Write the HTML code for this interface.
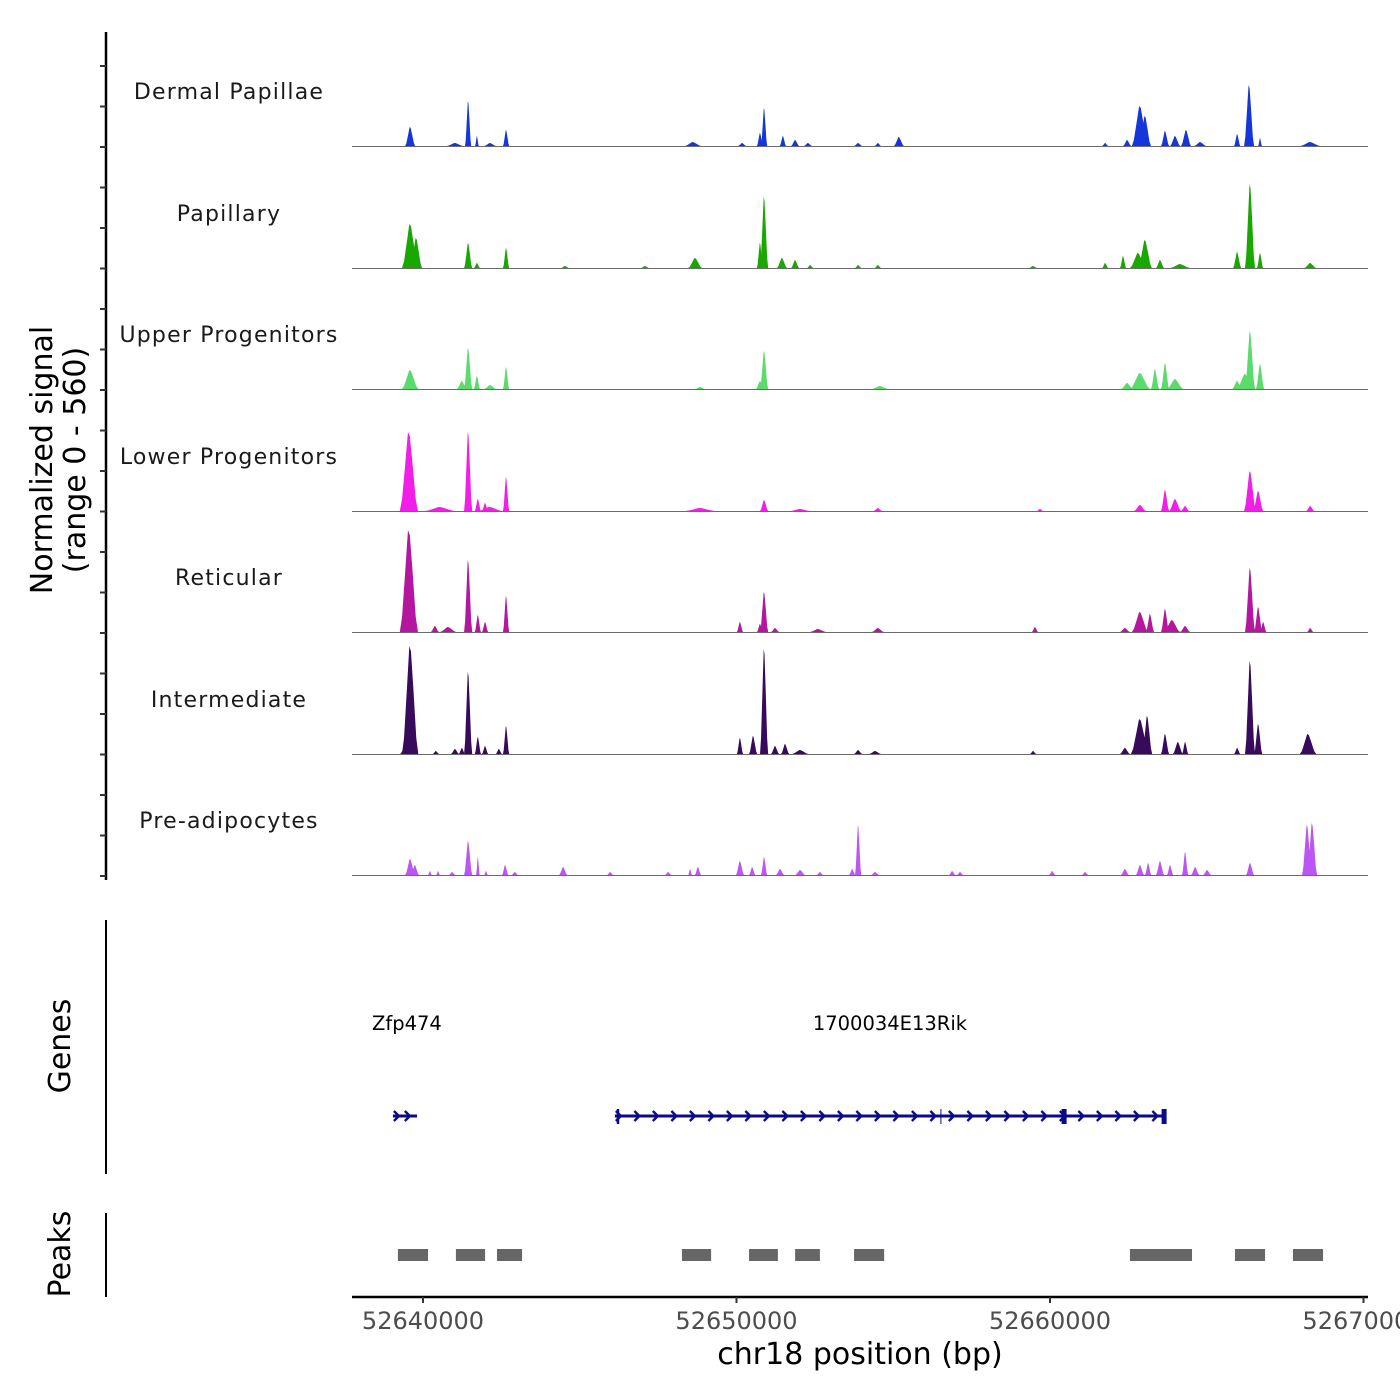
<!DOCTYPE html>
<html><head><meta charset="utf-8"><style>
html,body{margin:0;padding:0;background:#fff}
svg{display:block;font-family:"DejaVu Sans","Liberation Sans",sans-serif}
</style></head><body>
<svg id="chart" width="1400" height="1400" viewBox="0 0 1400 1400" xmlns="http://www.w3.org/2000/svg">
<g id="tracks"></g>
<g id="leftaxis"></g>
<text transform="translate(52,460) rotate(-90)" text-anchor="middle" font-size="30" fill="#000">Normalized signal</text>
<text transform="translate(85,460) rotate(-90)" text-anchor="middle" font-size="30" fill="#000">(range 0 - 560)</text>
<line x1="106" y1="920" x2="106" y2="1174" stroke="#000" stroke-width="2"/>
<text transform="translate(70,1046) rotate(-90)" text-anchor="middle" font-size="30" fill="#000">Genes</text>
<g id="genes"></g>
<line x1="106" y1="1213" x2="106" y2="1297" stroke="#000" stroke-width="2"/>
<text transform="translate(70,1254) rotate(-90)" text-anchor="middle" font-size="30" fill="#000">Peaks</text>
<g id="peaks"></g>
<g id="xaxis"></g>
<text x="860" y="1364" text-anchor="middle" font-size="30" fill="#000">chr18 position (bp)</text>
</svg>
<script>
// Genomic data (positions in kb)
const trackNames = ["Dermal Papillae","Papillary","Upper Progenitors","Lower Progenitors","Reticular","Intermediate","Pre-adipocytes"];
const trackColors = ["#1537d9","#18a800","#5bdb69","#f01ee6","#b5169f","#380a5c","#bb56f5"];
const dpPos = [52639.59,52641.44,52641.72,52642.65,52641.02,52642.14,52648.61,52650.18,52650.75,52650.88,52651.48,52651.87,52652.28,52653.88,52654.51,52655.18,52661.76,52662.46,52662.87,52663.03,52663.67,52664.34,52663.99,52664.79,52665.97,52666.35,52666.70,52668.30];
const dpSig = [95,225,50,80,15,15,20,15,65,190,50,30,15,15,15,45,15,30,200,150,75,80,50,20,60,305,40,20];
const dpWid = [0.16,0.10,0.06,0.10,0.26,0.19,0.26,0.13,0.10,0.10,0.10,0.13,0.13,0.13,0.10,0.16,0.10,0.13,0.26,0.19,0.13,0.16,0.16,0.19,0.10,0.16,0.06,0.32];
const paPos = [52639.59,52639.78,52641.44,52642.65,52641.72,52648.68,52650.75,52650.88,52651.45,52651.87,52652.35,52653.88,52654.51,52647.08,52644.53,52659.46,52661.76,52662.33,52663.03,52662.81,52663.51,52664.15,52665.97,52666.38,52666.70,52668.30];
const paSig = [220,150,125,100,25,50,125,355,50,40,15,15,15,10,10,10,25,60,140,75,40,20,80,420,75,25];
const paWid = [0.26,0.19,0.13,0.10,0.10,0.22,0.10,0.13,0.16,0.13,0.10,0.10,0.10,0.13,0.13,0.13,0.10,0.10,0.22,0.26,0.13,0.32,0.13,0.16,0.10,0.19];
const upPos = [52639.59,52641.44,52641.72,52641.24,52642.65,52642.14,52650.75,52650.88,52662.46,52662.87,52663.35,52663.67,52663.99,52665.97,52666.38,52666.70,52666.22,52654.58,52648.84];
const upSig = [95,205,65,40,110,20,40,190,30,80,100,130,50,40,290,125,75,15,10];
const upWid = [0.26,0.13,0.10,0.16,0.10,0.19,0.13,0.13,0.19,0.32,0.13,0.13,0.26,0.16,0.16,0.13,0.26,0.26,0.16];
const loPos = [52639.55,52641.44,52641.75,52641.98,52642.65,52640.54,52642.14,52648.84,52650.88,52652.03,52654.51,52659.68,52662.87,52663.67,52663.99,52664.31,52666.38,52666.64,52668.30];
const loSig = [395,395,60,40,170,20,20,15,55,10,15,10,30,105,60,25,200,100,25];
const loWid = [0.29,0.13,0.10,0.10,0.10,0.48,0.38,0.48,0.13,0.32,0.13,0.10,0.19,0.13,0.19,0.13,0.19,0.16,0.13];
const rePos = [52639.55,52640.38,52640.80,52641.44,52641.75,52641.98,52642.65,52650.11,52650.75,52650.88,52651.23,52652.60,52654.51,52659.52,52662.39,52662.87,52663.19,52663.67,52663.89,52664.31,52666.38,52666.64,52666.80,52668.30];
const reSig = [510,30,25,360,85,50,180,50,40,200,20,15,20,25,20,100,90,115,60,30,320,125,50,20];
const reWid = [0.29,0.13,0.26,0.13,0.10,0.10,0.10,0.10,0.10,0.13,0.13,0.26,0.19,0.10,0.16,0.26,0.13,0.13,0.26,0.16,0.16,0.13,0.10,0.10];
const inPos = [52639.43,52639.59,52640.41,52641.02,52641.24,52641.44,52641.75,52641.98,52642.42,52642.65,52650.11,52650.53,52650.88,52651.23,52651.55,52652.03,52653.88,52654.42,52659.46,52662.39,52662.87,52663.10,52663.67,52664.08,52664.31,52665.97,52666.38,52666.64,52668.23];
const inSig = [40,540,15,25,30,410,85,40,25,140,80,90,525,40,50,20,20,15,15,30,175,190,100,60,60,30,465,150,100];
const inWid = [0.16,0.26,0.10,0.13,0.10,0.13,0.10,0.10,0.10,0.10,0.10,0.13,0.13,0.13,0.13,0.26,0.13,0.19,0.10,0.16,0.29,0.16,0.13,0.16,0.10,0.10,0.16,0.13,0.26];
const prPos = [52639.59,52639.74,52640.22,52640.48,52640.93,52641.44,52641.75,52642.01,52642.62,52642.93,52644.47,52645.97,52647.82,52648.52,52648.77,52650.11,52650.50,52650.88,52651.39,52652.03,52652.66,52653.69,52653.88,52654.42,52656.88,52657.13,52660.07,52661.12,52662.39,52662.87,52663.13,52663.51,52663.83,52664.31,52664.63,52665.01,52666.38,52668.20,52668.36];
const prSig = [80,50,20,20,15,170,90,20,50,15,40,15,15,30,40,70,40,90,30,25,15,30,250,15,20,15,20,15,30,50,60,70,50,115,40,25,60,250,260];
const prWid = [0.16,0.13,0.06,0.06,0.10,0.13,0.06,0.06,0.10,0.10,0.13,0.10,0.10,0.06,0.10,0.13,0.10,0.10,0.13,0.16,0.10,0.10,0.10,0.13,0.10,0.10,0.10,0.10,0.13,0.13,0.10,0.13,0.10,0.10,0.13,0.13,0.13,0.16,0.16];
const trackPos = [dpPos,paPos,upPos,loPos,rePos,inPos,prPos];
const trackSig = [dpSig,paSig,upSig,loSig,reSig,inSig,prSig];
const trackWid = [dpWid,paWid,upWid,loWid,reWid,inWid,prWid];
const peakStart = [52639.20,52641.05,52642.36,52648.26,52650.40,52651.87,52653.75,52662.55,52665.90,52667.75];
const peakEnd = [52640.16,52641.98,52643.16,52649.19,52651.32,52652.66,52654.71,52664.53,52666.86,52668.71];
const geneNames = ["Zfp474","1700034E13Rik"];
const geneStart = [52639.04,52646.12];
const geneEnd = [52639.81,52663.67];
const exonPos = [52646.22,52656.52,52660.45,52663.64];
const xTicks = [52640,52650,52660,52670];
const xTickLabels = ["52640000","52650000","52660000","52670000"];

const NS="http://www.w3.org/2000/svg";
function mk(tag,attrs,parent){const e=document.createElementNS(NS,tag);for(const k in attrs)e.setAttribute(k,attrs[k]);parent.appendChild(e);return e;}
const X0=352,X1=1368,KBPX=313.5/10;
function xs(kb){return 423+(kb-52640)*KBPX;}
function ys(v,base){return base-v/5;}
const baseY=[146,268,389,511,632,754,875];

const tracks=document.getElementById('tracks');
for(let t=0;t<7;t++){
  const g=mk('g',{},tracks);
  
  
  const lab=mk('text',{x:229,y:baseY[t]-47,'text-anchor':'middle','font-size':'22','letter-spacing':'1.2',fill:'#1a1a1a'},g);
  lab.textContent=trackNames[t];
  
  
  const P=trackPos[t],S=trackSig[t],W=trackWid[t];
  for(let i=0;i<P.length;i++){
    const b=baseY[t];
    const p=mk('polygon',{points:`${xs(P[i]-W[i])},${b} ${xs(P[i]-W[i]*0.75)},${ys(S[i]*0.15,b)} ${xs(P[i]-W[i]*0.4)},${ys(S[i]*0.6,b)} ${xs(P[i]-W[i]*0.1)},${ys(S[i],b)} ${xs(P[i]+W[i]*0.1)},${ys(S[i]*0.95,b)} ${xs(P[i]+W[i]*0.4)},${ys(S[i]*0.6,b)} ${xs(P[i]+W[i]*0.75)},${ys(S[i]*0.15,b)} ${xs(P[i]+W[i])},${b}`,fill:trackColors[t]},g);
    
    
  }
  const bl=mk('line',{x1:X0,x2:X1,y1:baseY[t]+0.5,y2:baseY[t]+0.5,stroke:'#6b6b6b','stroke-width':1},g);
  
  
}
const la=document.getElementById('leftaxis');
mk('line',{x1:106,x2:106,y1:32,y2:880,stroke:'#000','stroke-width':2.5},la);
for(let k=0;k<21;k++){const y=876-k*40.5;mk('line',{x1:100,x2:106,y1:y,y2:y,stroke:'#333','stroke-width':2},la);}

const genes=document.getElementById('genes');
const gc="#0b0b8a";
for(let i=0;i<geneNames.length;i++){
  const a=xs(geneStart[i]),b=xs(geneEnd[i]);
  const lab=mk('text',{x:i==0?372:(a+b)/2,y:1030,'text-anchor':i==0?'start':'middle','font-size':'19.5',fill:'#000'},genes);
  lab.textContent=geneNames[i];
  
  
  const ln=mk('line',{x1:a,x2:b,y1:1116,y2:1116,stroke:gc,'stroke-width':3},genes);
  
  
  const step=Math.min(18.5,(b-a)/2.2);
  for(let x=a+4;x<b-3;x+=step){mk('polyline',{points:`${x-3},${1111} ${x+2},${1116} ${x-3},${1121}`,fill:'none',stroke:gc,'stroke-width':2.4},genes);}
}
for(let i=0;i<exonPos.length;i++){
  const x=xs(exonPos[i]);const w=(i==1)?1:(i==0?2.5:5);
  const r=mk('rect',{x:x-w/2,y:1109,width:w,height:15,fill:gc},genes);
  
  
}
const pk=document.getElementById('peaks');
for(let i=0;i<peakStart.length;i++){
  const r=mk('rect',{x:xs(peakStart[i]),y:1249,width:xs(peakEnd[i])-xs(peakStart[i]),height:12,fill:'#666'},pk);
  
  
}
const xa=document.getElementById('xaxis');
mk('line',{x1:X0,x2:X1,y1:1297,y2:1297,stroke:'#000','stroke-width':2.5},xa);
for(let i=0;i<xTicks.length;i++){
  const x=xs(xTicks[i]);
  mk('line',{x1:x,x2:x,y1:1297,y2:1303,stroke:'#333','stroke-width':2},xa);
  const t=mk('text',{x:x,y:1329,'text-anchor':'middle','font-size':'24',fill:'#4d4d4d'},xa);
  t.textContent=xTickLabels[i];
  
  
}
</script>
</body></html>
